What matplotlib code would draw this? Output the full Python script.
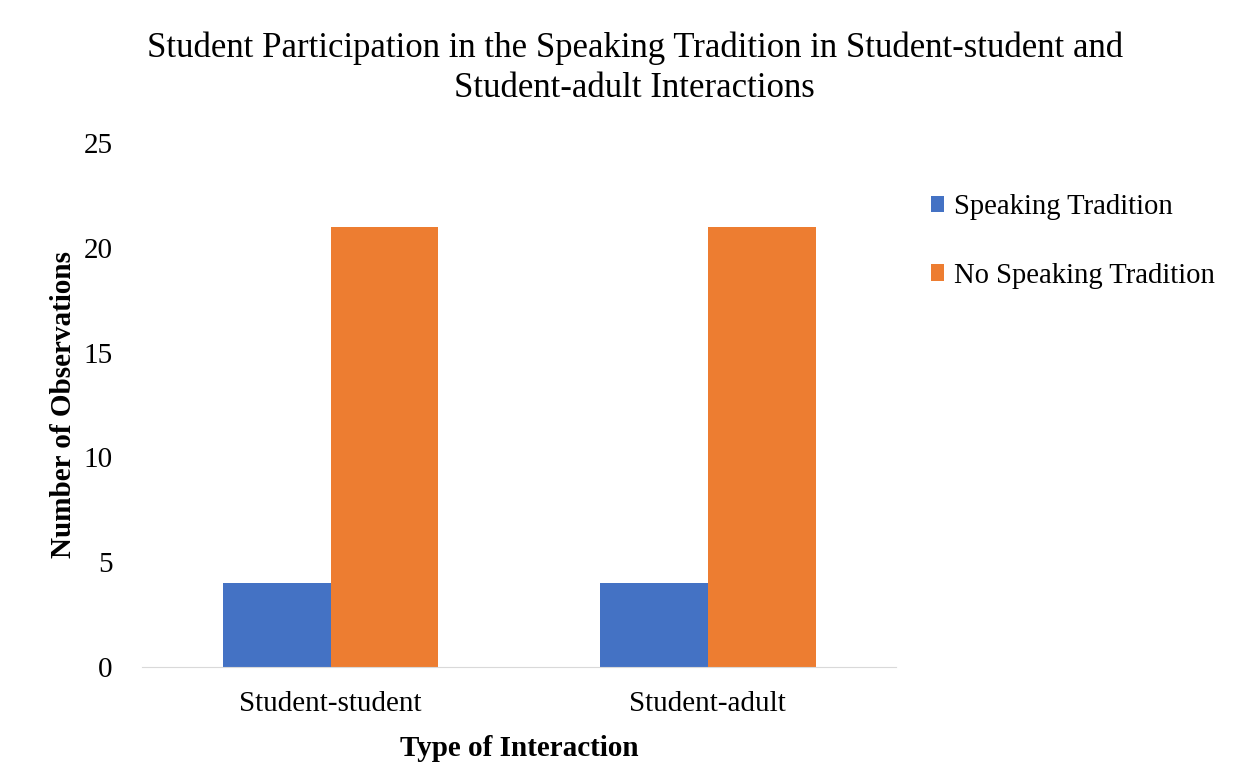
import matplotlib.pyplot as plt
import numpy as np

plt.rcParams['font.family'] = ['Liberation Serif', 'DejaVu Serif']

categories = ['Student-student', 'Student-adult']
speaking = [4, 4]
no_speaking = [21, 21]

fig = plt.figure(figsize=(12.57, 7.64), dpi=100)
ax = fig.add_axes([0.113, 0.127, 0.600, 0.686])

x = np.arange(len(categories))
w = 0.286
b1 = ax.bar(x - w / 2, speaking, w, color='#4472C4', label='Speaking Tradition')
b2 = ax.bar(x + w / 2, no_speaking, w, color='#ED7D31', label='No Speaking Tradition')

ax.set_xlim(-0.5, 1.5)
ax.set_ylim(0, 25)
ax.set_yticks([0, 5, 10, 15, 20, 25])
ax.set_xticks(x)
ax.set_xticklabels(categories)
ax.tick_params(axis='both', length=0, labelsize=21)
ax.tick_params(axis='y', pad=21)
ax.tick_params(axis='x', pad=17)
for s in ['top', 'right', 'left']:
    ax.spines[s].set_visible(False)
ax.spines['bottom'].set_color('#d9d9d9')

ax.set_xlabel('Type of Interaction', fontsize=21, fontweight='bold', labelpad=13)
ax.set_ylabel('Number of Observations', fontsize=21, fontweight='bold', labelpad=5)

fig.suptitle('Student Participation in the Speaking Tradition in Student-student and\nStudent-adult Interactions',
             fontsize=25, x=0.505, y=0.959, linespacing=1.3)

fig.legend(handles=[b1, b2], loc='upper left', bbox_to_anchor=(0.72, 0.78),
           frameon=False, fontsize=20.6, handlelength=0.45, handleheight=0.5,
           handletextpad=0.35, labelspacing=1.5)

fig.savefig('out.png', dpi=100)
